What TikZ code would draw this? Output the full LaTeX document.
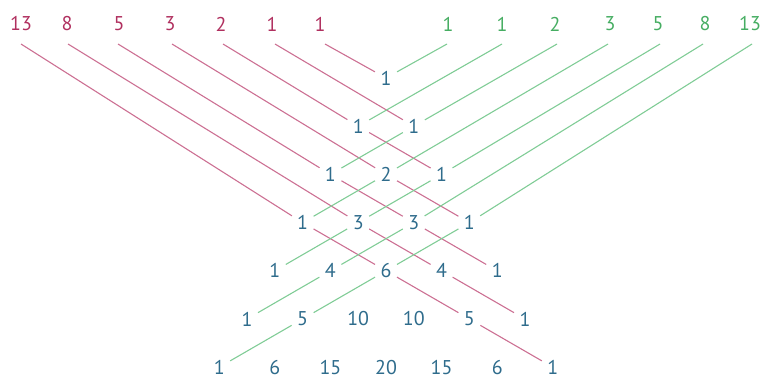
\documentclass[tikz,border=0pt]{standalone}
\usepackage{fontspec}
\setmainfont{PT Sans}
\definecolor{magtext}{HTML}{B0305F}
\definecolor{magline}{HTML}{CC7093}
\definecolor{grntext}{HTML}{46AD62}
\definecolor{grnline}{HTML}{80CC96}
\definecolor{numblue}{HTML}{2F6C8C}
\begin{document}
\begin{tikzpicture}[x=1bp,y=-1bp,
  num/.style={circle, minimum size=25bp, inner sep=0pt, text=numblue, font=\fontsize{20}{20}\selectfont},
  mlab/.style={inner sep=0pt, text=magtext, font=\fontsize{20}{20}\selectfont},
  glab/.style={inner sep=0pt, text=grntext, font=\fontsize{20}{20}\selectfont},
  mline/.style={draw=magline, line width=1.1bp},
  gline/.style={draw=grnline, line width=1.1bp}]
\useasboundingbox (0,0) rectangle (763,379);
% Pascal triangle
\foreach \r/\k/\v in {0/0/1,
  1/0/1, 1/1/1,
  2/0/1, 2/1/2, 2/2/1,
  3/0/1, 3/1/3, 3/2/3, 3/3/1,
  4/0/1, 4/1/4, 4/2/6, 4/3/4, 4/4/1,
  5/0/1, 5/1/5, 5/2/10, 5/3/10, 5/4/5, 5/5/1,
  6/0/1, 6/1/6, 6/2/15, 6/3/20, 6/4/15, 6/5/6, 6/6/1}
  \node[num] (p\r-\k) at ({386+(2*\k-\r)*27.8}, {78+48.2*\r}) {\v};
% labels
\foreach \n/\x/\v in {0/320/1, 1/272/1, 2/221/2, 3/170/3, 4/119/5, 5/67/8, 6/21/13}
  \node[mlab] (ml\n) at (\x,24) {\v};
\foreach \n/\x/\v in {0/448/1, 1/502/1, 2/555/2, 3/610/3, 4/658/5, 5/705/8, 6/750/13}
  \node[glab] (gl\n) at (\x,24) {\v};
% line starts
\foreach \n/\x in {0/325, 1/275, 2/223, 3/172, 4/118, 5/68, 6/21}
  \coordinate (ms\n) at (\x,44);
\foreach \n/\x in {0/447, 1/502, 2/557, 3/608, 4/660, 5/703, 6/752}
  \coordinate (gs\n) at (\x,44);
% magenta lines
\draw[mline] (ms0) -- (p0-0);
\draw[mline] (ms1) -- (p1-1);
\draw[mline] (ms2) -- (p1-0) -- (p2-2);
\draw[mline] (ms3) -- (p2-1) -- (p3-3);
\draw[mline] (ms4) -- (p2-0) -- (p3-2) -- (p4-4);
\draw[mline] (ms5) -- (p3-1) -- (p4-3) -- (p5-5);
\draw[mline] (ms6) -- (p3-0) -- (p4-2) -- (p5-4) -- (p6-6);
% green lines
\draw[gline] (gs0) -- (p0-0);
\draw[gline] (gs1) -- (p1-0);
\draw[gline] (gs2) -- (p1-1) -- (p2-0);
\draw[gline] (gs3) -- (p2-1) -- (p3-0);
\draw[gline] (gs4) -- (p2-2) -- (p3-1) -- (p4-0);
\draw[gline] (gs5) -- (p3-2) -- (p4-1) -- (p5-0);
\draw[gline] (gs6) -- (p3-3) -- (p4-2) -- (p5-1) -- (p6-0);
\end{tikzpicture}
\end{document}
